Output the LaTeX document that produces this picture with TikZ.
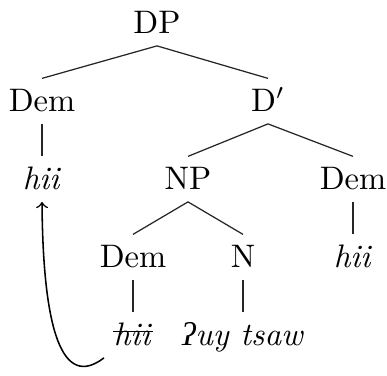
\documentclass[tikz,border=0pt]{standalone}
\usepackage{fontspec}
\newfontfamily\ipafont{Liberation Serif}
\usepackage{tikz}
\usetikzlibrary{arrows,positioning,calc}

\begin{document}
\begin{tikzpicture}[x=0.3225pt, y=-0.3225pt,
    cat/.style={anchor=base, font=\fontsize{10.5}{12}\selectfont, text height=7pt, text depth=0pt, inner xsep=0pt, inner ysep=3.64pt},
    branch/.style={draw=black!85, line width=0.4pt}]
    \useasboundingbox (0,0) rectangle (387,376);
    % tree nodes
    \node[cat] (dp) at (157,34) {DP};
    \node[cat] (demA) at (42,112) {Dem};
    \node[cat] (dbar) at (268,112) {D$'$};
    \node[cat] (hiiA) at (42,190) {\textit{hii}};
    \node[cat] (np) at (188,190) {NP};
    \node[cat] (demB) at (353,190) {Dem};
    \node[cat] (demC) at (133,268) {Dem};
    \node[cat] (n) at (243,268) {N};
    \node[cat] (hiiB) at (353,268) {\textit{hii}};
    \node[cat] (hiiC) at (133,346) {\textit{hii}};
    \node[cat] (noun) at (243,346) {{\ipafont\itshape ʔ}\textit{uy tsaw}};
    % branches
    \draw[branch] (dp.south) -- (demA.north);
    \draw[branch] (dp.south) -- (dbar.north);
    \draw[branch] (demA.south) -- (hiiA.north);
    \draw[branch] (dbar.south) -- (np.north);
    \draw[branch] (dbar.south) -- (demB.north);
    \draw[branch] (np.south) -- (demC.north);
    \draw[branch] (np.south) -- (n.north);
    \draw[branch] (demB.south) -- (hiiB.north);
    \draw[branch] (demC.south) -- (hiiC.north);
    \draw[branch] (n.south) -- (noun.north);
    % struck copy and movement
    \draw[line width=0.5pt] ([yshift=4.6pt]hiiC.base west) -- ([yshift=4.6pt]hiiC.base east);
    \draw[->, line width=0.5pt] ([xshift=-3pt]hiiC.south west) .. controls (62,390) and (43,330) .. (hiiA.south);
\end{tikzpicture}
\end{document}
